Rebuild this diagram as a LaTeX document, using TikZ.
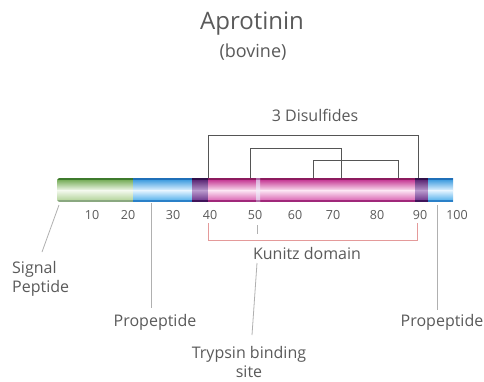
\documentclass[tikz,border=0pt]{standalone}
\usepackage{fontspec}
\setmainfont{Open Sans}
\definecolor{textgray}{HTML}{5A5A5A}
\definecolor{callout}{HTML}{B0B0B0}
\definecolor{bond}{HTML}{555555}
\definecolor{kunitz}{HTML}{E49A9A}
% green
\definecolor{gT}{HTML}{3D7A2C}\definecolor{gM}{HTML}{6FA850}\definecolor{gH}{HTML}{F2F8EC}\definecolor{gL}{HTML}{B0D296}\definecolor{gE}{HTML}{8AA880}
% blue
\definecolor{bT}{HTML}{1F6FB8}\definecolor{bM}{HTML}{3597DD}\definecolor{bH}{HTML}{E2F3FF}\definecolor{bL}{HTML}{4FAEEA}\definecolor{bE}{HTML}{2A80C8}
% pink
\definecolor{pT}{HTML}{8C1A5E}\definecolor{pM}{HTML}{C2308F}\definecolor{pH}{HTML}{FBE2F2}\definecolor{pL}{HTML}{D860B0}\definecolor{pE}{HTML}{A0287A}
% purple
\definecolor{uT}{HTML}{32104A}\definecolor{uM}{HTML}{55206F}\definecolor{uH}{HTML}{B898CC}\definecolor{uL}{HTML}{6A3088}\definecolor{uE}{HTML}{40145A}
% stripe
\definecolor{sT}{HTML}{B06AA8}\definecolor{sM}{HTML}{D8A8D8}\definecolor{sH}{HTML}{F4ECF8}\definecolor{sL}{HTML}{E0B8E0}\definecolor{sE}{HTML}{B070A8}
\newcommand\barseg[3]{%
  \shade[top color=#3M, bottom color=#3H] (#1,179) rectangle (#2,190.5);
  \shade[top color=#3H, bottom color=#3L] (#1,190.5) rectangle (#2,201);
  \fill[#3T] (#1,178) rectangle (#2,180.5);
  \fill[#3E] (#1,200) rectangle (#2,202);}
\begin{document}
\begin{tikzpicture}[x=1pt,y=-1pt,
  lbl/.style={text=textgray, inner sep=0pt, font=\fontsize{16}{19}\selectfont},
  ticklbl/.style={text=textgray, inner sep=0pt, font=\fontsize{12.5}{15}\selectfont},
  callline/.style={draw=callout, line width=0.8pt},
  bondline/.style={draw=bond, line width=0.8pt},
  kline/.style={draw=kunitz, line width=1pt}]
\useasboundingbox (0,0) rectangle (484,382);
\fill[white] (0,0) rectangle (484,382);
% titles
\node[text=textgray, inner sep=0pt, font=\fontsize{24}{28}\selectfont] (title) at (252,24) {Aprotinin};
\node[text=textgray, inner sep=0pt, font=\fontsize{18}{22}\selectfont] (sub) at (253,52) {(bovine)};
% bar
\begin{scope}
\clip[rounded corners=3pt] (57,178) rectangle (470,202);
\barseg{57}{134}{g}
\barseg{133}{193}{b}
\barseg{192}{209}{u}
\barseg{208}{416}{p}
\barseg{415}{429}{u}
\barseg{428}{453}{b}
\barseg{256}{260}{s}
\end{scope}
% disulfides
\node[lbl] (ds) at (315,115) {3 Disulfides};
\coordinate (a1) at (208,178); \coordinate (a2) at (418,178);
\coordinate (b1) at (250,178); \coordinate (b2) at (341,178);
\coordinate (c1) at (313,178); \coordinate (c2) at (398,178);
\draw[bondline] (a1) -- (208,135) -- (418,135) -- (a2);
\draw[bondline] (b1) -- (250,148) -- (341,148) -- (b2);
\draw[bondline] (c1) -- (313,160) -- (398,160) -- (c2);
% tick labels
\foreach \v/\x in {10/92,20/128,30/173,40/210,50/255,60/295,70/333,80/377,90/420,100/457}
  \node[ticklbl] (t\v) at (\x,215) {\v};
% Kunitz bracket
\coordinate (k1) at (208,223); \coordinate (k2) at (417,223);
\draw[kline] (k1) -- (208,240) -- (417,240) -- (k2);
\node[lbl] (kun) at (307,253) {Kunitz domain};
% trypsin
\coordinate (tr0) at (257,225); \coordinate (tr1) at (257,234);
\draw[callline] (tr0) -- (tr1);
\node[lbl, align=center] (tryp) at (249,362) {Trypsin binding\\site};
\coordinate (tr2) at (257,263);
\draw[callline] (tr2) -- (252,335);
% signal peptide
\node[lbl, align=left, anchor=west] (sig) at (12,279) {Signal\\Peptide};
\coordinate (s0) at (59,205);
\draw[callline] (s0) -- (42,252);
% propeptides
\node[lbl] (pro1) at (155,322) {Propeptide};
\coordinate (p1) at (151,203);
\draw[callline] (p1) -- (151,308);
\node[lbl] (pro2) at (442,322) {Propeptide};
\coordinate (p2) at (437,205);
\draw[callline] (p2) -- (437,310);
\end{tikzpicture}
\end{document}
